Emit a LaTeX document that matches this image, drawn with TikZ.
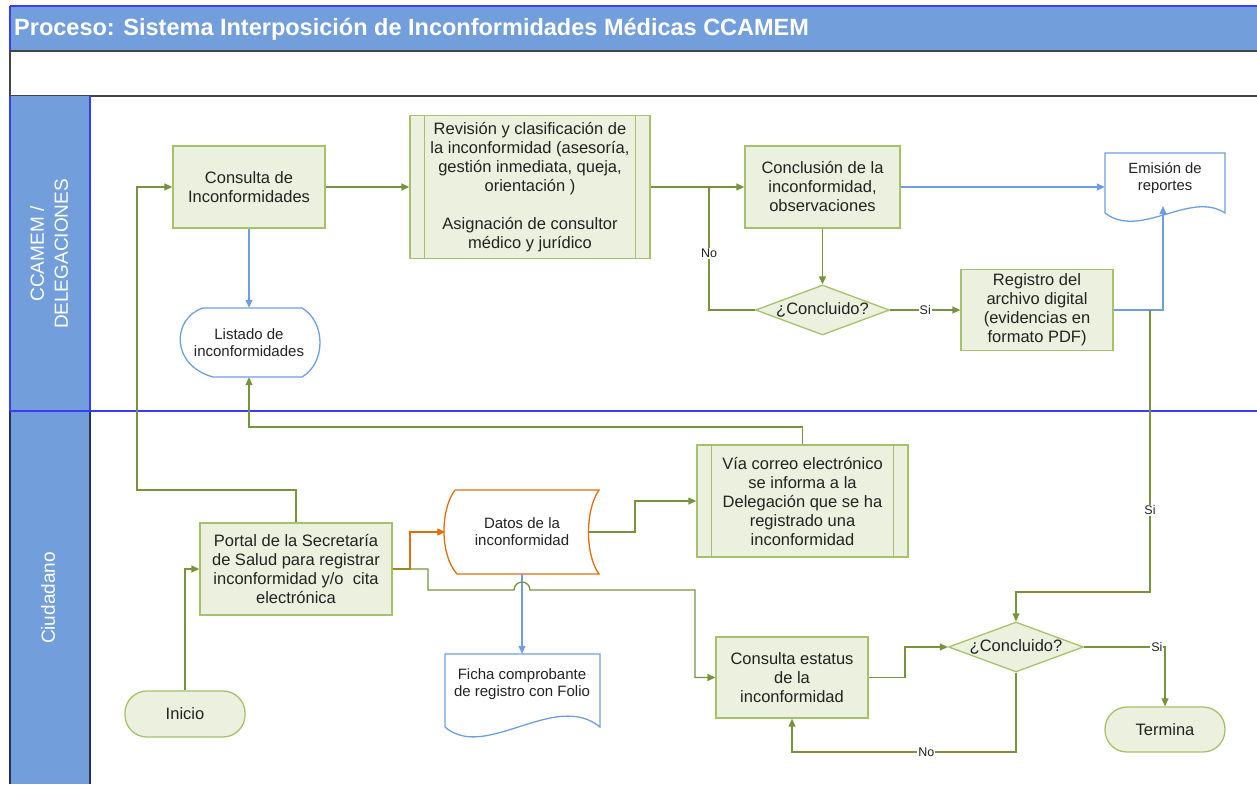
\documentclass[tikz,border=0pt]{standalone}
\usepackage{fontspec}
\setmainfont{Liberation Sans}
\usetikzlibrary{arrows.meta,shapes.geometric}
\definecolor{laneblue}{HTML}{729FDB}
\definecolor{brblue}{HTML}{3B3BF5}
\definecolor{navy}{HTML}{26305E}
\definecolor{gfill}{HTML}{EBF1DE}
\definecolor{gdraw}{HTML}{A5C26A}
\definecolor{gline}{HTML}{77933C}
\definecolor{bline}{HTML}{6E9EE0}
\definecolor{oline}{HTML}{E46C0A}
\definecolor{txt}{HTML}{222222}
\definecolor{darkline}{HTML}{404548}
\begin{document}
\begin{tikzpicture}[x=1pt,y=-1pt,
 box/.style={draw=gdraw, fill=gfill, line width=1.3pt, text=txt, align=center, inner sep=0pt, font=\fontsize{16.5}{19}\selectfont},
 termbox/.style={box, rounded corners=22pt},
 decbox/.style={diamond, aspect=2.7, draw=gdraw, fill=gfill, line width=1.3pt, text=txt, inner sep=0pt, font=\fontsize{16.5}{19}\selectfont},
 txtnode/.style={align=center, inner sep=0pt, text=txt, font=\fontsize{15}{17}\selectfont},
 gc/.style={draw=gline, line width=1.3pt, -{Triangle[length=8pt,width=7pt]}},
 gl/.style={draw=gline, line width=1.3pt},
 bc/.style={draw=bline, line width=1.3pt, -{Triangle[length=8pt,width=7pt]}},
 oc/.style={draw=oline, line width=1.3pt, -{Triangle[length=8pt,width=7pt]}},
 lbl/.style={fill=white, inner sep=1pt, text=txt, font=\fontsize{12.5}{14}\selectfont},
 lanetxt/.style={rotate=90, text=white, align=center, font=\fontsize{19}{24}\selectfont},
]
\useasboundingbox (0,0) rectangle (1257,784);
% frame and lanes
\fill[laneblue] (10,6) rectangle (1257,51);
\draw[brblue, line width=2pt] (10,6) -- (1257,6);
\draw[brblue, line width=1.2pt] (10,6) -- (10,51);
\draw[darkline, line width=1.5pt] (10,51) -- (1257,51);
\draw[darkline, line width=1.5pt] (10,51) -- (10,96);
\draw[darkline, line width=1.5pt] (10,96) -- (1257,96);
\fill[laneblue] (10,96) rectangle (90,784);
\draw[brblue, line width=1.2pt] (10,96) -- (10,411) (90,96) -- (90,411);
\draw[navy, line width=1.5pt] (10,411) -- (10,784) (90,411) -- (90,784);
\draw[brblue, line width=1.2pt] (10,411) -- (1257,411);
\node[anchor=west, text=white, font=\bfseries\fontsize{23.5}{25}\selectfont, inner sep=0pt] (title) at (14,29) {Proceso: Sistema Interposición de Inconformidades Médicas CCAMEM};
\node[lanetxt] (lane1) at (49,254) {CCAMEM /\\DELEGACIONES};
\node[lanetxt] (lane2) at (48,598) {Ciudadano};

% nodes lane 1
\node[box, minimum width=152pt, minimum height=82pt] (cons) at (249,187) {Consulta de\\Inconformidades};
\node[box, minimum width=240pt, minimum height=143pt] (rev) at (530,187) {Revisión y clasificación de\\la inconformidad (asesoría,\\gestión inmediata, queja,\\orientación )\\[19pt]Asignación de consultor\\médico y jurídico};
\draw[gdraw, line width=1.3pt] ([xshift=15pt]rev.north west) -- ([xshift=15pt]rev.south west) ([xshift=-15pt]rev.north east) -- ([xshift=-15pt]rev.south east);
\node[box, minimum width=155pt, minimum height=82pt] (conc) at (822.5,187) {Conclusión de la\\inconformidad,\\observaciones};
\node[decbox, minimum width=134pt, minimum height=50pt] (d1) at (822.5,310) {¿Concluido?};
\node[box, minimum width=152pt, minimum height=81pt] (reg) at (1037,310) {Registro del\\archivo digital\\(evidencias en\\formato PDF)};
\draw[bline, line width=1.3pt] (1105,213) -- (1105,153) -- (1225,153) -- (1225,213) .. controls (1190,190) and (1140,240) .. (1105,213);
\node[txtnode, font=\fontsize{14.8}{17}\selectfont, minimum width=120pt, minimum height=51pt] (emis) at (1165,178.5) {Emisión de\\reportes};
\draw[bline, line width=1.3pt] (213,377) .. controls (170,365) and (172,318) .. (203,308) -- (302,308) .. controls (326,322) and (326,363) .. (302,377) -- cycle;
\node[txtnode, font=\fontsize{15}{16.5}\selectfont, minimum width=142pt, minimum height=69pt] (list) at (249,342.5) {Listado de\\inconformidades};

% nodes lane 2
\node[box, minimum width=192pt, minimum height=92pt] (port) at (296,569) {Portal de la Secretaría\\de Salud para registrar\\inconformidad y/o\ \ cita\\electrónica};
\node[termbox, minimum width=120pt, minimum height=46pt] (ini) at (185,714) {Inicio};
\draw[oline, line width=1.3pt] (455,490) -- (599,490) .. controls (585,510) and (585,555) .. (599,574) -- (457,574) .. controls (440,555) and (440,510) .. (455,490);
\node[txtnode, minimum width=153pt, minimum height=84pt] (datos) at (522,532) {Datos de la\\inconformidad};
\node[box, minimum width=211pt, minimum height=112pt] (via) at (802.5,501) {Vía correo electrónico\\se informa a la\\Delegación que se ha\\registrado una\\inconformidad};
\draw[gdraw, line width=1.3pt] ([xshift=15pt]via.north west) -- ([xshift=15pt]via.south west) ([xshift=-15pt]via.north east) -- ([xshift=-15pt]via.south east);
\draw[bline, line width=1.3pt] (445,727) -- (445,654) -- (600,654) -- (600,727) .. controls (555,690) and (485,762) .. (445,727);
\node[txtnode, minimum width=155pt, minimum height=61pt] (ficha) at (522,684.5) {Ficha comprobante\\de registro con Folio};
\node[box, minimum width=152pt, minimum height=81pt] (estat) at (792,677.5) {Consulta estatus\\de la\\inconformidad};
\node[decbox, minimum width=135pt, minimum height=50pt] (d2) at (1016,647) {¿Concluido?};
\node[termbox, minimum width=120pt, minimum height=45pt] (term) at (1165,729.5) {Termina};

% coordinates
\coordinate (j1) at (709,187);
\coordinate (emb) at (1163,206);
\coordinate (rj) at (1150,310);
\coordinate (c4) at (1150,592);
\coordinate (c2) at (802,427);
\coordinate (c1) at (137,490);
\coordinate (o1) at (410,569);
\coordinate (g1) at (428,569);
\coordinate (g2) at (428,590);
\coordinate (g3) at (514,590);
\coordinate (g4) at (695,590);
\coordinate (dr) at (588,532);
\coordinate (dr2) at (635,532);
\coordinate (e1) at (905,677.5);
\coordinate (c3) at (1016,752);

% connectors
\draw[gc] (cons.east) -- (rev.west);
\draw[gc] (rev.east) -- (conc.west);
\draw[bc] (cons.south) -- (list.north);
\draw[bc] (conc.east) -- (conc.east -| emis.west);
\draw[gc] (conc.south) -- (d1.north);
\draw[gl] (d1.west) -| node[lbl,pos=0.73]{No} (j1);
\draw[gc] (d1.east) -- node[lbl]{Si} (reg.west);
\draw[bc] (reg.east) -| (emb);
\draw[gc] (rj) -- node[lbl,pos=0.71]{Si} (c4) -| (d2.north);
\draw[gc] (via.north) -- (via.north |- c2) -| (list.south);
\draw[gc] (port.north) |- (c1) |- (cons.west);
\draw[oc] (port.east) -- (o1) |- (datos.west);
\draw[bc] (datos.south) -- (ficha.north);
\draw[gc] (port.east) -- (g1) -- (g2) -- (g3) arc[start angle=180,end angle=360,radius=8] -- (g4) |- (estat.west);
\draw[gc] (dr) -- (dr2) |- (via.west);
\draw[gc] (ini.north) |- (port.west);
\draw[gc] (estat.east) -- (e1) |- (d2.west);
\draw[gc] (d2.east) -| node[lbl,pos=0.45]{Si} (term.north);
\draw[gc] (d2.south) -- (c3) -| node[lbl,pos=0.2]{No} (estat.south);
\end{tikzpicture}
\end{document}
